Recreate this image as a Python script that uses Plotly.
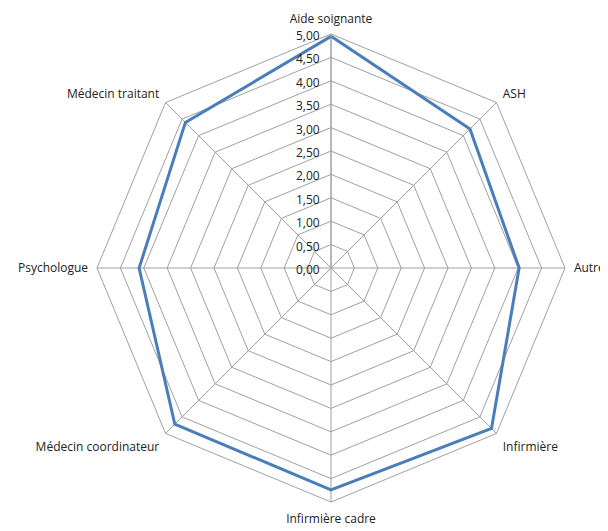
import plotly.graph_objects as go

categories = ["Aide soignante", "ASH", "Autre", "Infirmière", "Infirmière cadre",
              "Médecin coordinateur", "Psychologue", "Médecin traitant"]
values = [4.95, 4.2, 4.02, 4.85, 4.74, 4.72, 4.1, 4.4]
tick_vals = [0, 0.5, 1, 1.5, 2, 2.5, 3, 3.5, 4, 4.5, 5]
tick_text = ["0,00", "0,50", "1,00", "1,50", "2,00", "2,50", "3,00", "3,50", "4,00", "4,50", "5,00"]

fig = go.Figure()
fig.add_trace(go.Scatterpolar(
    r=values + values[:1],
    theta=categories + categories[:1],
    mode="lines",
    line=dict(color="#4A7EBB", width=3),
    showlegend=False,
    hoverinfo="skip",
))

W, H = 608, 531
off = 8  # page body margin
cx, cy, R = 331 - off, 268 - off, 234
fig.update_layout(
    width=W, height=H,
    margin=dict(l=0, r=0, t=0, b=0),
    paper_bgcolor="white",
    plot_bgcolor="white",
    font=dict(family="Open Sans", size=12, color="#222222"),
    polar=dict(
        domain=dict(x=[(cx - R) / W, (cx + R) / W],
                    y=[(H - cy - R) / H, (H - cy + R) / H]),
        bgcolor="white",
        gridshape="linear",
        angularaxis=dict(
            rotation=90, direction="clockwise",
            showline=True, linecolor="#a0a0a0", linewidth=1,
            gridcolor="#a0a0a0", gridwidth=1,
            ticks="outside", ticklen=6, tickcolor="rgba(0,0,0,0)",
            tickfont=dict(size=12, color="#222222"),
        ),
        radialaxis=dict(
            range=[0, 5], angle=90,
            tickvals=tick_vals, ticktext=tick_text,
            showline=True, linecolor="#a0a0a0", linewidth=1,
            gridcolor="#a0a0a0", gridwidth=1,
            ticks="", side="counterclockwise",
            tickfont=dict(size=12, color="#222222"),
        ),
    ),
)
fig.write_html("out.html")
